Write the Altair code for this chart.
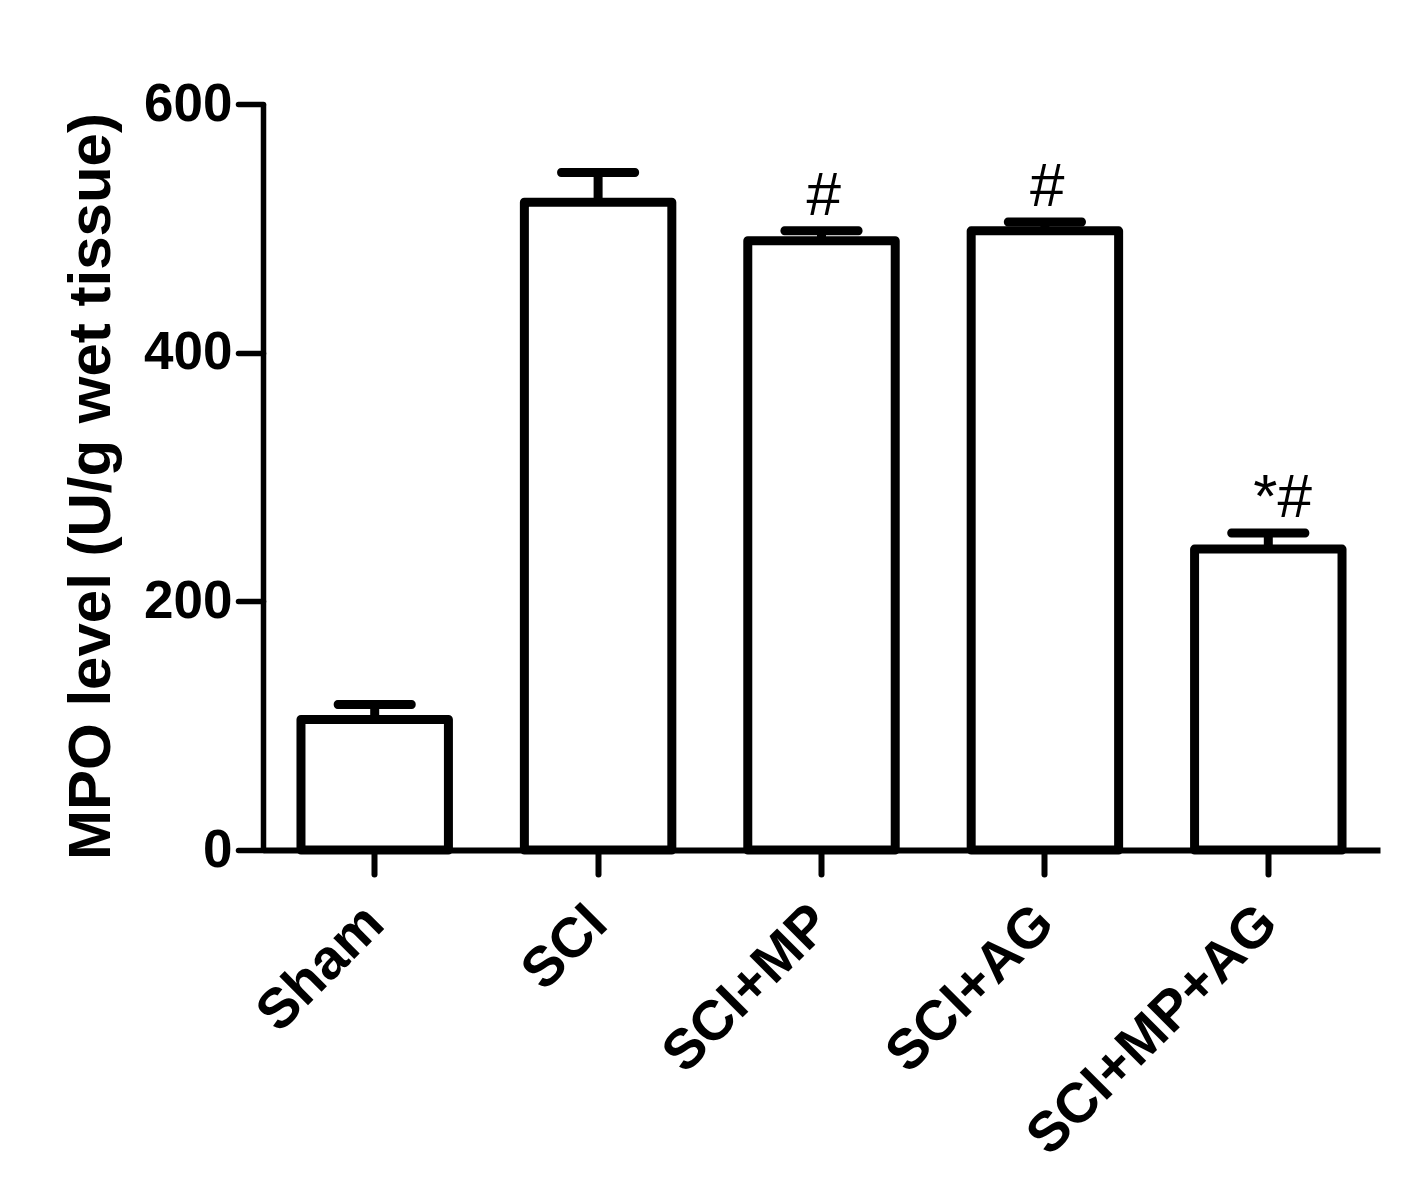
import altair as alt
import pandas as pd

groups = ["Sham", "SCI", "SCI+MP", "SCI+AG", "SCI+MP+AG"]
means = [105, 521, 490, 498, 242]
errors = [12, 24, 8, 7, 13]
annotations = ["", "", "#", "#", "*#"]

df = pd.DataFrame({
    "group": groups,
    "mean": means,
    "upper": [m + e for m, e in zip(means, errors)],
    "annot": annotations,
})

FONT = "Liberation Sans"

x_enc = alt.X(
    "group:N",
    sort=groups,
    scale=alt.Scale(paddingInner=0.34, paddingOuter=0.17),
    axis=alt.Axis(
        title=None,
        labelAngle=-45,
        labelAlign="right",
        labelBaseline="middle",
        labelPadding=40,
        labelFontSize=56,
        labelFontWeight="bold",
        labelFont=FONT,
        labelColor="black",
        labelLimit=1000,
        labelOverlap=False,
        tickSize=24,
        tickWidth=6,
        tickColor="black",
        tickCap="round",
        domainWidth=6,
        domainColor="black",
        grid=False,
    ),
)

y_scale = alt.Scale(domain=[0, 600], nice=False)

bars = alt.Chart(df).mark_bar(
    fill="white", stroke="black", strokeWidth=9, strokeJoin="round"
).encode(
    x=x_enc,
    y=alt.Y(
        "mean:Q",
        scale=y_scale,
        axis=alt.Axis(
            values=[0, 200, 400, 600],
            title="MPO level (U/g wet tissue)",
            titleFontSize=60,
            titleFontWeight="bold",
            titleFont=FONT,
            titleColor="black",
            titleAngle=-90,
            titleAlign="center",
            titleBaseline="alphabetic",
            titleX=-154,
            titleY=382,
            labelFontSize=53,
            labelFontWeight="bold",
            labelFont=FONT,
            labelColor="black",
            labelPadding=6,
            tickSize=25,
            tickWidth=5.5,
            tickColor="black",
            tickCap="round",
            domainWidth=5.5,
            domainColor="black",
            grid=False,
        ),
    ),
)

stems = alt.Chart(df).mark_rule(color="black", strokeWidth=9).encode(
    x=alt.X("group:N", sort=groups),
    y=alt.Y("mean:Q", scale=y_scale),
    y2="upper:Q",
)

caps = alt.Chart(df).mark_tick(
    color="black", size=82, thickness=9, cornerRadius=4, opacity=1
).encode(
    x=alt.X("group:N", sort=groups),
    y=alt.Y("upper:Q", scale=y_scale),
)

labels = alt.Chart(df).mark_text(
    align="left", baseline="alphabetic", dx=-15, dy=-16,
    fontSize=62, font=FONT, fontWeight="normal", color="black",
).encode(
    x=alt.X("group:N", sort=groups),
    y=alt.Y("upper:Q", scale=y_scale),
    text="annot:N",
)

chart = alt.layer(bars, stems, caps, labels).properties(
    width=1117,
    height=746,
    autosize=alt.AutoSizeParams(type="none"),
    padding={"left": 255, "top": 96, "right": 20, "bottom": 330},
    background="white",
).configure_view(stroke=None)

chart.save("out.html", embed_options={"renderer": "svg", "actions": False})
